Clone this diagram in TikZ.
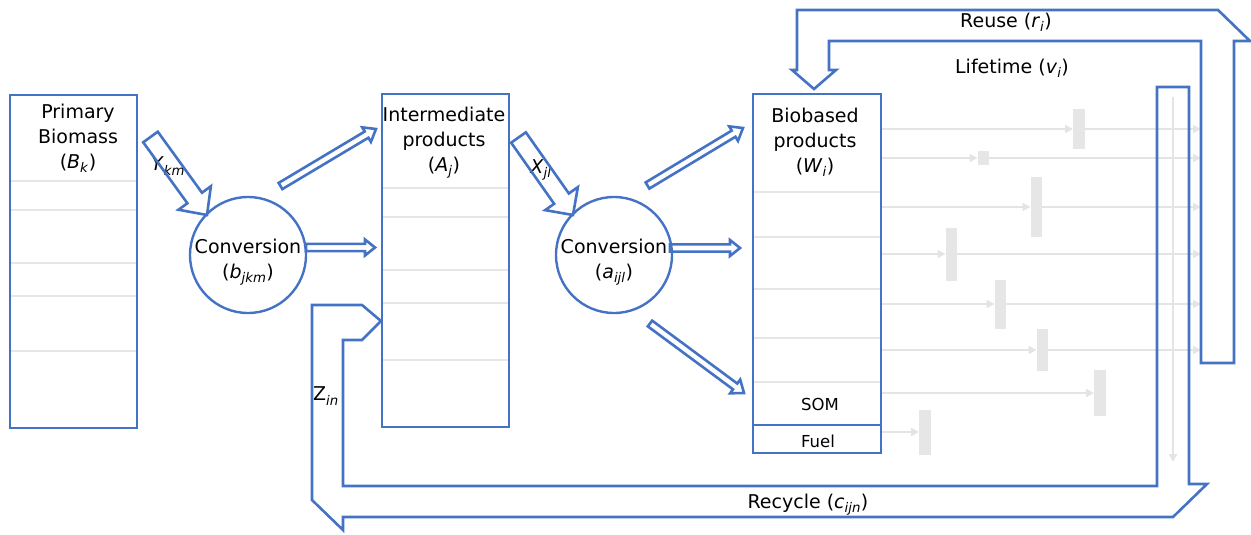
\documentclass[tikz,border=0pt]{standalone}
\usepackage{fontspec}
\setmainfont{DejaVu Sans}
\usetikzlibrary{calc,arrows.meta}
\definecolor{obl}{RGB}{68,114,196}
\definecolor{gl}{RGB}{230,230,230}
\definecolor{gla}{RGB}{228,228,228}
\newcommand\iti[1]{\textit{#1}}
\newcommand\sbi[1]{\textsubscript{\textit{#1}}}
\newcommand\blkarrow[5]{%
  \coordinate (hb) at ($(#2)!#5!(#1)$);
  \draw[barr] ($(#1)!#3!90:(#2)$) -- ($(hb)!#3!90:(#2)$) -- ($(hb)!#4!90:(#2)$) -- (#2)
    -- ($(hb)!#4!-90:(#2)$) -- ($(hb)!#3!-90:(#2)$) -- ($(#1)!#3!-90:(#2)$) -- cycle;}
\tikzset{
  bl/.style={draw=obl, line width=2.7pt},
  box/.style={bl, rectangle, inner sep=0pt},
  conv/.style={draw=obl, line width=2.4pt, circle, inner sep=0pt, minimum size=116pt},
  lbl/.style={font=\fontsize{19}{25}\selectfont, align=center, inner sep=0pt},
  small/.style={font=\fontsize{16.5}{18}\selectfont, inner sep=0pt},
  sep/.style={draw=gl, line width=2pt},
  gar/.style={draw=gla, line width=2pt, -{Triangle[length=8pt,width=8pt]}},
  gblk/.style={fill=gl, draw=none, inner sep=0pt, minimum width=11.5pt},
  barr/.style={draw=obl, line width=2.6pt, line join=miter},
}
\begin{document}
\begin{tikzpicture}[x=1pt,y=-1pt]
\useasboundingbox (0,0) rectangle (1251,535);
% separators
\foreach \yy in {181,210,263,296,351} \draw[sep] (10,\yy) -- (137,\yy);
\foreach \yy in {188,217,270,303,360} \draw[sep] (382,\yy) -- (509,\yy);
\foreach \yy in {192,237,289,338,382} \draw[sep] (753,\yy) -- (881,\yy);
% boxes
\node[box, minimum width=127pt, minimum height=333pt] (pb) at (73.5,261.5) {};
\node[box, minimum width=127pt, minimum height=333pt] (ip) at (445.5,260.5) {};
\node[box, minimum width=128pt, minimum height=331pt] (bp) at (817,259.5) {};
\node[box, minimum width=128pt, minimum height=28pt] (fuel) at (817,439) {};
\node[conv] (c1) at (248,255) {};
\node[conv] (c2) at (614,255) {};
% labels
\node[lbl] (tpb) at (78,138) {Primary\\Biomass\\(\iti{B}\sbi{k})};
\node[lbl] (tip) at (444,143) {Intermediate\\products\\(\iti{A}\sbi{j})};
\node[lbl] (tbp) at (815,142) {Biobased\\products\\(\iti{W}\sbi{i})};
\node[lbl] (tc1) at (248,262) {Conversion\\(\iti{b}\sbi{jkm})};
\node[lbl] (tc2) at (614,262) {Conversion\\(\iti{a}\sbi{ijl})};
\node[small] (som) at (820,404) {SOM};
\node[small] (tfu) at (818,441) {Fuel};
\node[lbl] (ly) at (168,166) {\iti{Y}\sbi{km}};
\node[lbl] (lx) at (541,170) {\iti{X}\sbi{jl}};
\node[lbl] (lz) at (326,396) {Z\sbi{in}};
\node[lbl] (lre) at (1006,22) {Reuse (\iti{r}\sbi{i})};
\node[lbl] (llt) at (1012,68) {Lifetime (\iti{v}\sbi{i})};
\node[lbl] (lrc) at (808,505) {Recycle (\iti{c}\sbi{ijn})};
% grey blocks
\node[gblk, minimum height=40pt] (g1) at (1079,129) {};
\node[gblk, minimum height=14pt] (g2) at (983.5,158) {};
\node[gblk, minimum height=60pt] (g3) at (1036.5,207) {};
\node[gblk, minimum height=53pt] (g4) at (951.5,254) {};
\node[gblk, minimum height=49pt] (g5) at (1000.5,304) {};
\node[gblk, minimum height=42pt] (g6) at (1042.5,350) {};
\node[gblk, minimum height=46pt] (g7) at (1100,393) {};
\node[gblk, minimum height=45pt] (g8) at (925,432) {};
\coordinate (rcx) at (1201,0);
\foreach \g in {g1,g2,g3,g4,g5,g6,g7} \draw[gar] (bp.east |- \g.west) -- (\g.west);
\draw[gar] (fuel.east |- g8.west) -- (g8.west);
\foreach \g in {g1,g2,g3,g4,g5,g6} \draw[gar] (\g.east) -- (\g.east -| rcx);
\coordinate (vt) at (1173,97);
\coordinate (vb) at (1173,462);
\draw[gar] (vt) -- (vb);
% block arrows
\coordinate (ya) at (150.5,137); \coordinate (yb) at (207,215);
\blkarrow{ya}{yb}{9pt}{20pt}{21pt}
\coordinate (xa) at (518.5,137.5); \coordinate (xb) at (573,215);
\blkarrow{xa}{xb}{9pt}{20pt}{20pt}
\coordinate (a1) at (280.5,186); \coordinate (b1) at (376,129);
\blkarrow{a1}{b1}{3.6pt}{8.5pt}{11pt}
\coordinate (a2) at (306,247.5); \coordinate (b2) at (375,247.5);
\blkarrow{a2}{b2}{3.6pt}{8pt}{10pt}
\coordinate (a3) at (647.5,185.5); \coordinate (b3) at (743,128);
\blkarrow{a3}{b3}{3.6pt}{8.5pt}{11pt}
\coordinate (a4) at (670,248); \coordinate (b4) at (740,248);
\blkarrow{a4}{b4}{3.6pt}{8pt}{10pt}
\coordinate (a5) at (650,323.5); \coordinate (b5) at (744,393);
\blkarrow{a5}{b5}{3.6pt}{8.5pt}{11pt}
% recycle arrow
\draw[barr] (343,340) -- (343,486) -- (1157,486) -- (1157,87) -- (1189,87) -- (1189,484)
  -- (1207,484) -- (1173,517) -- (343,517) -- (343,530) -- (312,500) -- (312,305)
  -- (362,305) -- (381,321) -- (362,340) -- cycle;
% reuse arrow
\draw[barr] (797,10) -- (1218,10) -- (1250,41) -- (1234,41) -- (1234,363) -- (1201,363)
  -- (1201,41) -- (829,41) -- (829,70) -- (836,70) -- (814,89) -- (792,70) -- (797,70) -- cycle;
\end{tikzpicture}
\end{document}
